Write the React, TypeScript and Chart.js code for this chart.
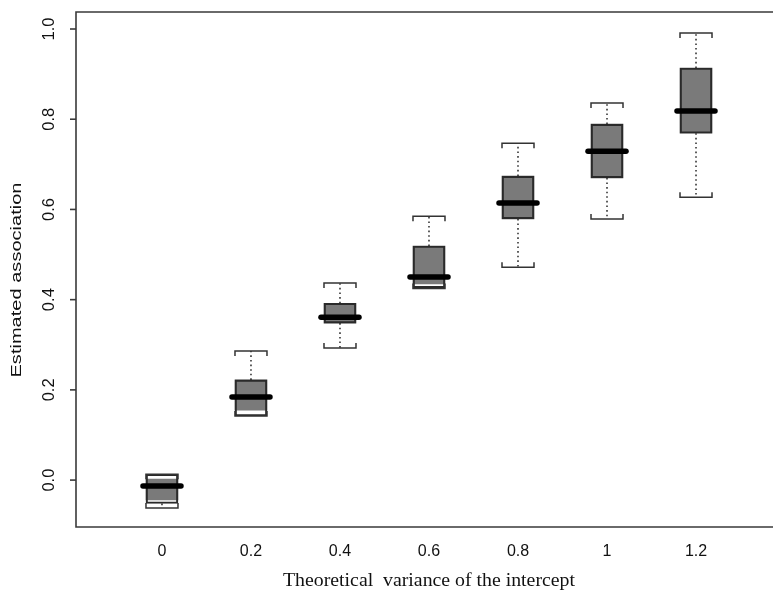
import React, { useEffect, useRef } from 'react';
import { Chart, registerables } from 'chart.js';

Chart.register(...registerables);

// ---- data ----
const categories = ['0', '0.2', '0.4', '0.6', '0.8', '1', '1.2'];
const whiskerLow = [-0.062, 0.142, 0.293, 0.425, 0.472, 0.579, 0.627];
const q1 = [-0.052, 0.142, 0.348, 0.426, 0.579, 0.67, 0.769];
const median = [-0.013, 0.184, 0.361, 0.45, 0.614, 0.729, 0.818];
const q3 = [0.013, 0.222, 0.392, 0.519, 0.674, 0.789, 0.9135];
const whiskerHigh = [0.013, 0.286, 0.437, 0.585, 0.747, 0.836, 0.991];
// grey shading inside each box (the scan leaves a white strip in some boxes)
const shadeLow = [-0.044, 0.155, 0.348, 0.435, 0.579, 0.67, 0.769];
const shadeHigh = [0.002, 0.222, 0.392, 0.519, 0.674, 0.789, 0.9135];
const yTicks = [0, 0.2, 0.4, 0.6, 0.8, 1.0];
const yTitle = 'Estimated association';
const xTitle = 'Theoretical  variance of the intercept';

const BOX_W = 32;

function stretchedText(ctx: CanvasRenderingContext2D, text: string, target: number) {
  const w = ctx.measureText(text).width;
  ctx.scale(target / w, 1);
  ctx.fillText(text, 0, 0);
}

const extrasPlugin = {
  id: 'boxExtras',
  beforeDraw(chart: any) {
    const { ctx, width, height } = chart;
    ctx.save();
    ctx.fillStyle = '#ffffff';
    ctx.fillRect(0, 0, width, height);
    ctx.restore();
  },
  afterDatasetsDraw(chart: any) {
    const { ctx, scales, chartArea } = chart;
    const x = scales.x;
    const y = scales.y;
    ctx.save();
    const half = BOX_W / 2;
    categories.forEach((_, i) => {
      const cx = x.getPixelForValue(i + 1);
      const pLow = y.getPixelForValue(whiskerLow[i]);
      const pQ1 = y.getPixelForValue(q1[i]);
      const pQ3 = y.getPixelForValue(q3[i]);
      const pHigh = y.getPixelForValue(whiskerHigh[i]);
      const pMed = y.getPixelForValue(median[i]);

      // dotted whiskers
      ctx.strokeStyle = '#1a1a1a';
      ctx.lineWidth = 1.4;
      ctx.setLineDash([1.6, 3]);
      ctx.beginPath();
      if (pHigh < pQ3) {
        ctx.moveTo(cx, pQ3);
        ctx.lineTo(cx, pHigh);
      }
      if (pLow > pQ1) {
        ctx.moveTo(cx, pQ1);
        ctx.lineTo(cx, pLow);
      }
      ctx.stroke();
      ctx.setLineDash([]);

      // bracket-shaped caps
      ctx.strokeStyle = '#333';
      ctx.lineWidth = 1.5;
      ctx.beginPath();
      ctx.moveTo(cx - half, pHigh + 5);
      ctx.lineTo(cx - half, pHigh);
      ctx.lineTo(cx + half, pHigh);
      ctx.lineTo(cx + half, pHigh + 5);
      ctx.moveTo(cx - half, pLow - 5);
      ctx.lineTo(cx - half, pLow);
      ctx.lineTo(cx + half, pLow);
      ctx.lineTo(cx + half, pLow - 5);
      ctx.stroke();

      // thick median
      ctx.strokeStyle = '#000';
      ctx.lineWidth = 5.5;
      ctx.lineCap = 'round';
      ctx.beginPath();
      ctx.moveTo(cx - half - 3, pMed);
      ctx.lineTo(cx + half + 3, pMed);
      ctx.stroke();
      ctx.lineCap = 'butt';
    });

    // frame: top, left, bottom
    ctx.strokeStyle = '#3a3a3a';
    ctx.lineWidth = 1.6;
    ctx.beginPath();
    ctx.moveTo(chart.width, chartArea.top);
    ctx.lineTo(chartArea.left, chartArea.top);
    ctx.lineTo(chartArea.left, chartArea.bottom);
    ctx.lineTo(chart.width, chartArea.bottom);
    ctx.stroke();

    // y ticks and rotated labels
    ctx.fillStyle = '#111';
    ctx.font = '16px "Liberation Sans", Arial, sans-serif';
    ctx.textAlign = 'center';
    ctx.textBaseline = 'middle';
    y.ticks.forEach((t: any) => {
      const py = y.getPixelForValue(t.value);
      ctx.beginPath();
      ctx.moveTo(chartArea.left - 6, py);
      ctx.lineTo(chartArea.left, py);
      ctx.stroke();
      ctx.save();
      ctx.translate(50, py);
      ctx.rotate(-Math.PI / 2);
      stretchedText(ctx, Number(t.value).toFixed(1), 23);
      ctx.restore();
    });

    // y title
    ctx.save();
    ctx.font = '15px "Liberation Sans", Arial, sans-serif';
    ctx.translate(17, 280);
    ctx.rotate(-Math.PI / 2);
    stretchedText(ctx, yTitle, 195);
    ctx.restore();

    // x title (centred on the plot region, i.e. position 4)
    ctx.save();
    ctx.font = '18px "Liberation Serif", "Times New Roman", serif';
    ctx.translate(x.getPixelForValue(4), 581);
    stretchedText(ctx, xTitle, 292);
    ctx.restore();

    ctx.restore();
  },
};

export default function App() {
  const ref = useRef<HTMLCanvasElement>(null);
  useEffect(() => {
    document.body.style.margin = '0';
    const chart = new Chart(ref.current as HTMLCanvasElement, {
      type: 'bar',
      data: {
        datasets: [
          {
            label: 'shade',
            data: categories.map((_, i) => ({ x: i + 1, y: [shadeLow[i], shadeHigh[i]] })) as any,
            backgroundColor: '#7a7a7a',
            borderWidth: 0,
            barThickness: BOX_W,
            grouped: false,
            order: 2,
          } as any,
          {
            label: 'box',
            data: categories.map((_, i) => ({ x: i + 1, y: [q1[i], q3[i]] })) as any,
            backgroundColor: 'rgba(0,0,0,0)',
            borderColor: '#2a2a2a',
            borderWidth: 1.5,
            borderSkipped: false,
            barThickness: BOX_W,
            grouped: false,
            order: 1,
          } as any,
        ],
      },
      options: {
        responsive: false,
        animation: false,
        events: [],
        layout: { padding: { top: 12, right: 0, left: 0, bottom: 0 } },
        plugins: { legend: { display: false }, tooltip: { enabled: false } },
        scales: {
          x: {
            type: 'linear',
            offset: false,
            min: 0.034,
            max: 7.865,
            afterFit: (s: any) => {
              s.height = 70;
            },
            afterBuildTicks: (s: any) => {
              s.ticks = categories.map((_, i) => ({ value: i + 1 }));
            },
            ticks: {
              autoSkip: false,
              maxRotation: 0,
              padding: 7,
              color: '#111',
              font: { family: '"Liberation Sans", Arial, sans-serif', size: 16 },
              callback: (v: any) => categories[Math.round(Number(v)) - 1] ?? '',
            },
            grid: { display: false },
            border: { display: false },
          },
          y: {
            min: -0.104,
            max: 1.0377,
            afterFit: (s: any) => {
              s.width = 76;
            },
            afterBuildTicks: (s: any) => {
              s.ticks = yTicks.map((v) => ({ value: v }));
            },
            ticks: { display: false },
            grid: { display: false },
            border: { display: false },
          },
        } as any,
      },
      plugins: [extrasPlugin],
    });
    return () => chart.destroy();
  }, []);
  return (
    <div style={{ width: 773, height: 597 }}>
      <canvas ref={ref} width={773} height={597} style={{ display: 'block' }} />
    </div>
  );
}
